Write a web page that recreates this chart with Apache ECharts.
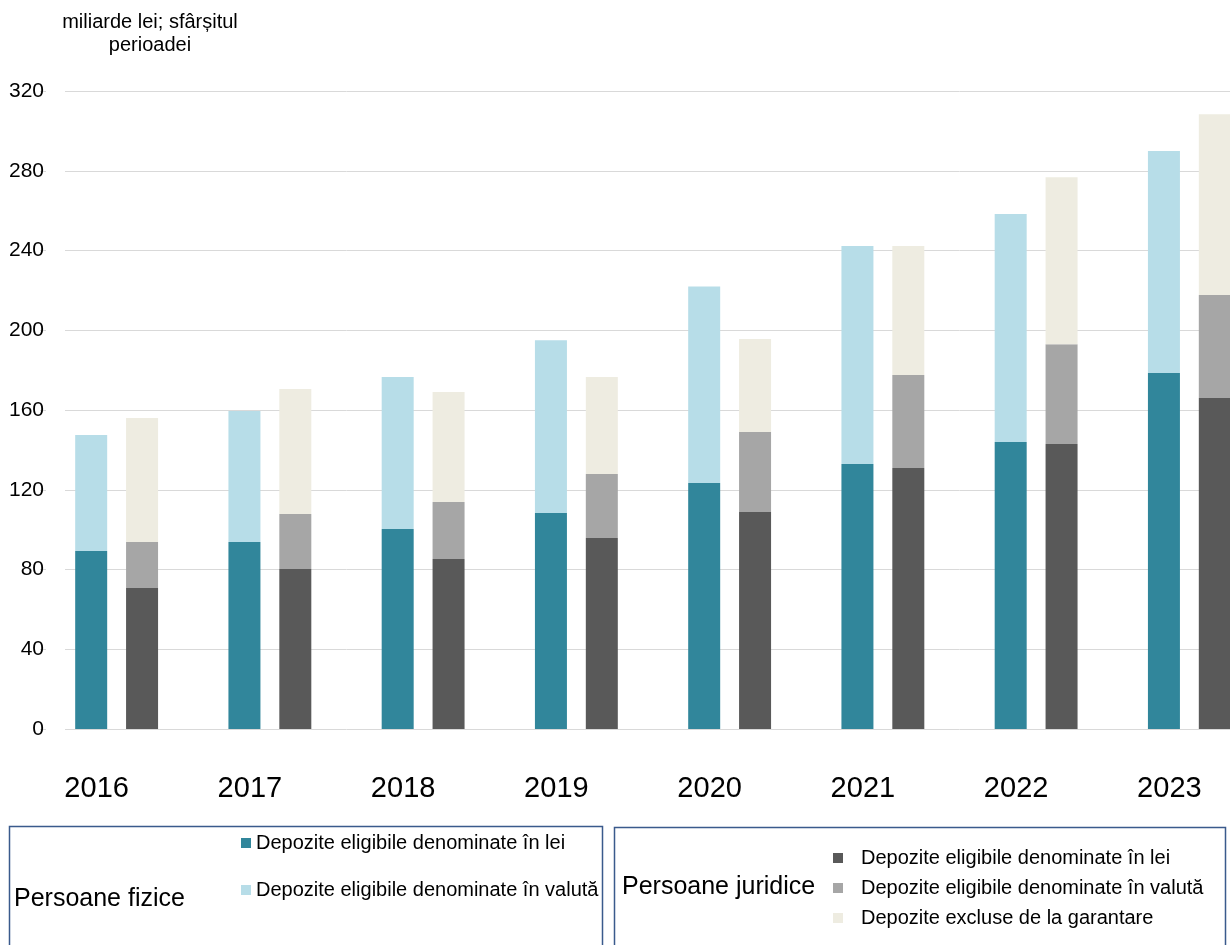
<!DOCTYPE html>
<html><head><meta charset="utf-8">
<script src="https://cdn.jsdelivr.net/npm/echarts@6/dist/echarts.min.js"></script>
<style>html,body{margin:0;padding:0;background:#fff;overflow:hidden;width:1230px;height:945px}#c{width:1280px;height:945px}</style>
</head><body><div id="c"></div>
<script>
const categories = ['2016','2017','2018','2019','2020','2021','2022','2023'];
const pfLei    = [89.3, 93.8, 100.3, 108.3, 123.4, 132.9, 143.9, 178.5];
const pfValuta = [58.1, 65.7, 76.2, 86.7, 98.6, 109.3, 114.4, 111.4];
const pjLei    = [70.7, 80.2, 85.3, 95.8, 108.8, 130.9, 142.9, 166.0];
const pjValuta = [23.1, 27.6, 28.5, 32.1, 40.2, 46.6, 50.1, 51.7];
const pjExcluse= [62.2, 62.7, 55.2, 48.6, 46.6, 64.7, 83.8, 90.7];
const yTicks = [0, 40, 80, 120, 160, 200, 240, 280, 320];
const legendLei = 'Depozite eligibile denominate în lei';
const legendVal = 'Depozite eligibile denominate în valută';
const legendExc = 'Depozite excluse de la garantare';
const boxFizice = 'Persoane fizice';
const boxJuridice = 'Persoane juridice';
const axisTitle = 'miliarde lei; sfârșitul\nperioadei';

const FONT = 'Liberation Sans, Arial, sans-serif';
const chart = echarts.init(document.getElementById('c'));
const names = {
  pfL: 'PF|' + legendLei, pfV: 'PF|' + legendVal,
  pjL: 'PJ|' + legendLei, pjV: 'PJ|' + legendVal, pjE: 'PJ|' + legendExc
};
function leg(name, left, top, pad) {
  return {
    data: [name], left: left, top: top, orient: 'vertical', padding: 0,
    icon: 'rect', itemWidth: 10, itemHeight: 10, selectedMode: false,
    formatter: n => n.split('|')[1],
    textStyle: { fontFamily: FONT, fontSize: 20, color: '#000', padding: [0,0,0,pad] }
  };
}
const bw = 32;
chart.setOption({
  animation: false,
  grid: { left: 40, top: 91, width: 1226, height: 638, containLabel: false },
  xAxis: {
    type: 'category', data: categories,
    axisLine: { show: false }, axisTick: { show: false },
    axisLabel: { fontFamily: FONT, fontSize: 29, color: '#000', margin: 45, padding: [0, 40, 0, 0] }
  },
  yAxis: {
    type: 'value', min: yTicks[0], max: yTicks[yTicks.length-1], interval: 40,
    axisLine: { show: false }, axisTick: { show: false },
    axisLabel: { fontFamily: FONT, fontSize: 21, color: '#000', margin: -4 },
    splitLine: { lineStyle: { color: '#d9d9d9', width: 1 } }
  },
  legend: [
    leg(names.pfL, 241, 833, 0),
    leg(names.pfV, 241, 880, 0),
    leg(names.pjL, 833, 848, 13),
    leg(names.pjV, 833, 878, 13),
    leg(names.pjE, 833, 908, 13)
  ],
  graphic: [
    { type: 'rect', z: 1, shape: { x: 46, y: 80, width: 19, height: 660 }, style: { fill: '#fff' } },
    { type: 'text', x: 150, y: 11, style: { text: axisTitle, fontFamily: FONT, fontSize: 20, fill: '#000', textAlign: 'center', lineHeight: 23 } },
    { type: 'rect', shape: { x: 9.5, y: 826.5, width: 593, height: 130 }, style: { fill: 'none', stroke: '#3a5a8c', lineWidth: 1.5 } },
    { type: 'rect', shape: { x: 614.5, y: 827.5, width: 611, height: 130 }, style: { fill: 'none', stroke: '#3a5a8c', lineWidth: 1.5 } },
    { type: 'text', x: 14, y: 887, style: { text: boxFizice, fontFamily: FONT, fontSize: 25, fill: '#000' } },
    { type: 'text', x: 622, y: 875, style: { text: boxJuridice, fontFamily: FONT, fontSize: 25, fill: '#000' } }
  ],
  series: [
    { name: names.pfL, type: 'bar', stack: 'pf', data: pfLei, barWidth: bw, barGap: '59%', itemStyle: { color: '#31869b' } },
    { name: names.pfV, type: 'bar', stack: 'pf', data: pfValuta, barWidth: bw, itemStyle: { color: '#b7dde8' } },
    { name: names.pjL, type: 'bar', stack: 'pj', data: pjLei, barWidth: bw, itemStyle: { color: '#595959' } },
    { name: names.pjV, type: 'bar', stack: 'pj', data: pjValuta, barWidth: bw, itemStyle: { color: '#a6a6a6' } },
    { name: names.pjE, type: 'bar', stack: 'pj', data: pjExcluse, barWidth: bw, itemStyle: { color: '#eeece1' } }
  ]
});
</script></body></html>
